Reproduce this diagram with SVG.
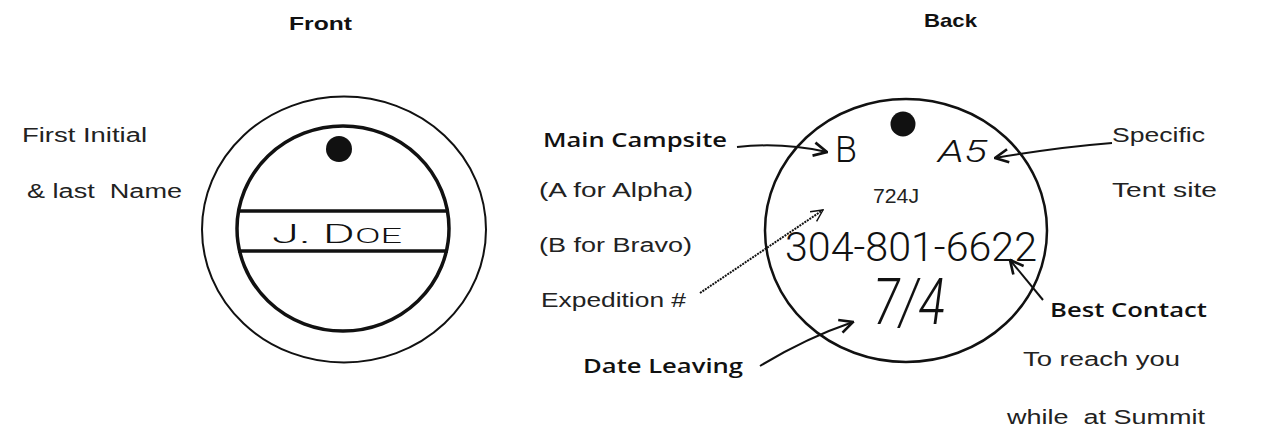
<svg xmlns="http://www.w3.org/2000/svg" width="1276" height="430" viewBox="0 0 1276 430">
<style>
.lbl{font-family:"Liberation Sans",Arial,sans-serif;font-size:20px;fill:#222}
.bold{font-family:"Open Sans","Liberation Sans",sans-serif;font-weight:600;font-size:20px;fill:#111}
.head{font-family:"Liberation Sans",Arial,sans-serif;font-weight:bold;font-size:19px;fill:#111}
.hand{font-family:"Roboto","Liberation Sans",sans-serif;font-weight:300;fill:#111}
.ring{fill:none;stroke:#111}
.conn{fill:none;stroke:#111;stroke-width:2}
</style>
<defs>
<marker id="ah" markerUnits="userSpaceOnUse" markerWidth="16" markerHeight="16" viewBox="0 0 12 12" refX="11" refY="6" orient="auto">
<path d="M1,1 L11,6 L1,11" fill="none" stroke="#111" stroke-width="2"/>
</marker>
<marker id="ahThin" markerUnits="userSpaceOnUse" markerWidth="14" markerHeight="14" viewBox="0 0 12 12" refX="11" refY="6" orient="auto">
<path d="M1,1 L11,6 L1,11" fill="none" stroke="#111" stroke-width="1.2"/>
</marker>
</defs>
<rect width="1276" height="430" fill="#ffffff"/>

<g id="title-front"><text class="head" x="289" y="30" textLength="63" lengthAdjust="spacingAndGlyphs">Front</text></g>
<g id="title-back"><text class="head" x="924" y="27" textLength="53" lengthAdjust="spacingAndGlyphs">Back</text></g>

<g id="front-tag">
<ellipse class="ring" cx="344" cy="229.5" rx="142" ry="133" stroke-width="2"/>
<ellipse class="ring" cx="343" cy="228.5" rx="106" ry="102.5" stroke-width="3.5"/>
<line x1="238" y1="211" x2="448" y2="211" stroke="#111" stroke-width="3.5"/>
<line x1="238" y1="251" x2="448" y2="251" stroke="#111" stroke-width="3.5"/>
<circle cx="339" cy="149" r="13" fill="#111"/>
<text class="hand" x="272" y="243" font-size="26" textLength="130" lengthAdjust="spacingAndGlyphs">J. D<tspan font-size="20">OE</tspan></text>
</g>

<g id="label-name">
<text class="lbl" x="22" y="142" textLength="125" lengthAdjust="spacingAndGlyphs">First Initial</text>
<text class="lbl" x="27" y="198" textLength="155" lengthAdjust="spacingAndGlyphs" xml:space="preserve">&amp; last  Name</text>
</g>

<g id="back-tag">
<ellipse class="ring" cx="906" cy="230.5" rx="141" ry="131.5" stroke-width="2.5"/>
<circle cx="903" cy="124" r="12.5" fill="#111"/>
<text class="hand" x="835" y="162" font-size="36" textLength="22" lengthAdjust="spacingAndGlyphs">B</text>
<text class="hand" x="938" y="162" font-size="32" font-style="italic" textLength="49" lengthAdjust="spacingAndGlyphs">A5</text>
<text class="lbl" x="873" y="203" font-size="17" textLength="46" lengthAdjust="spacingAndGlyphs">724J</text>
<text class="hand" x="785" y="261" font-size="40" textLength="252" lengthAdjust="spacingAndGlyphs">304-801-6622</text>
<text class="hand" x="873" y="324" font-size="64" font-style="italic" textLength="72" lengthAdjust="spacingAndGlyphs">7/4</text>
</g>

<g id="label-campsite">
<text class="bold" x="543" y="147" textLength="184" lengthAdjust="spacingAndGlyphs">Main Campsite</text>
<text class="lbl" x="539" y="197" textLength="154" lengthAdjust="spacingAndGlyphs">(A for Alpha)</text>
<text class="lbl" x="539" y="252" textLength="153" lengthAdjust="spacingAndGlyphs">(B for Bravo)</text>
</g>
<g id="label-expedition"><text class="lbl" x="541" y="307" textLength="145" lengthAdjust="spacingAndGlyphs">Expedition #</text></g>
<g id="label-date"><text class="bold" x="583" y="373" textLength="160" lengthAdjust="spacingAndGlyphs">Date Leaving</text></g>
<g id="label-tent">
<text class="lbl" x="1112" y="142" textLength="93" lengthAdjust="spacingAndGlyphs">Specific</text>
<text class="lbl" x="1112" y="197" textLength="105" lengthAdjust="spacingAndGlyphs">Tent site</text>
</g>
<g id="label-contact">
<text class="bold" x="1050" y="317" textLength="157" lengthAdjust="spacingAndGlyphs">Best Contact</text>
<text class="lbl" x="1023" y="366" textLength="157" lengthAdjust="spacingAndGlyphs">To reach you</text>
<text class="lbl" x="1007" y="424" textLength="198" lengthAdjust="spacingAndGlyphs" xml:space="preserve">while  at Summit</text>
</g>

<g id="connectors">
<path class="conn" d="M737,147 Q782,142 827,152" marker-end="url(#ah)"/>
<path class="conn" d="M700,293 L823,210" stroke-width="1" stroke-dasharray="2,1" marker-end="url(#ahThin)"/>
<path class="conn" d="M760,366 Q806,338 853,322" marker-end="url(#ah)"/>
<path class="conn" d="M1112,143 Q1060,147 995,158" marker-end="url(#ah)"/>
<path class="conn" d="M1043,300 L1010,260" marker-end="url(#ah)"/>
</g>
</svg>
